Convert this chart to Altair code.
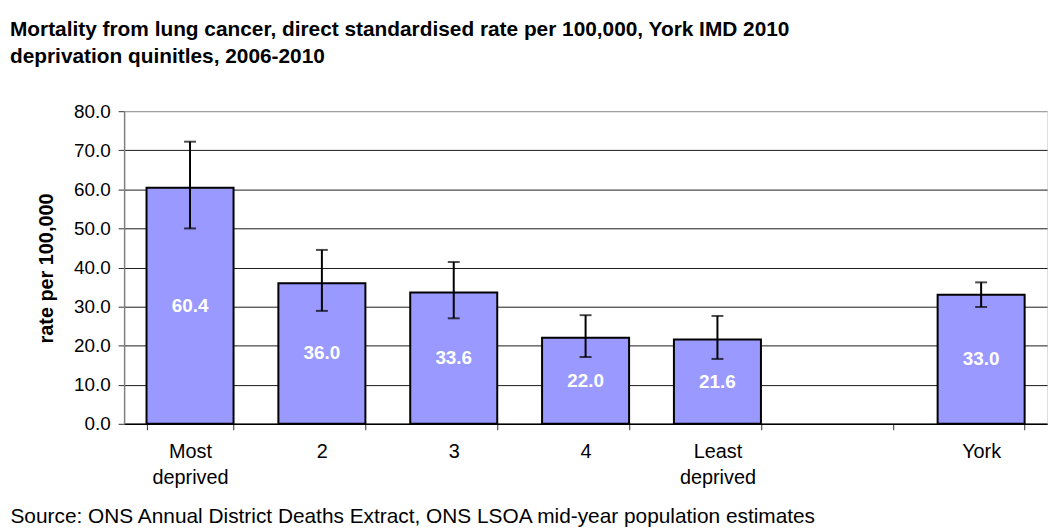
import altair as alt
import pandas as pd

categories = ["Most deprived", "2", "3", "4", "Least deprived", "gap", "York"]
bar_cats = ["Most deprived", "2", "3", "4", "Least deprived", "York"]
rates = [60.4, 36.0, 33.6, 22.0, 21.6, 33.0]
lower_ci = [50.0, 28.9, 27.0, 17.1, 16.6, 29.9]
upper_ci = [72.2, 44.5, 41.4, 27.8, 27.6, 36.2]
y_ticks = [0, 10, 20, 30, 40, 50, 60, 70, 80]

title_lines = [
    "Mortality from lung cancer, direct standardised rate per 100,000, York IMD 2010",
    "deprivation quinitles, 2006-2010",
]
source_text = "Source: ONS Annual District Deaths Extract, ONS LSOA mid-year population estimates"

df = pd.DataFrame({"cat": bar_cats, "rate": rates, "lo": lower_ci, "hi": upper_ci})

FONT = "Liberation Sans"

x_axis = alt.Axis(
    title=source_text,
    titleAnchor="start",
    titleX=-115,
    titleY=99,
    titleBaseline="alphabetic",
    titleFont=FONT,
    titleFontSize=21,
    titleFontWeight="normal",
    titleColor="black",
    labelExpr="datum.label == 'gap' ? '' : split(datum.label, ' ')",
    labelAngle=0,
    labelFont=FONT,
    labelFontSize=20,
    labelColor="black",
    labelLineHeight=26,
    labelPadding=12,
    labelBaseline="top",
    tickBand="extent",
    tickSize=6,
    tickColor="#333333",
    domainColor="#000000",
    domainWidth=1.5,
    grid=False,
)
x_scale = alt.Scale(domain=categories, paddingInner=0.34, paddingOuter=0.17)
x_enc = alt.X("cat:N", sort=categories, scale=x_scale, axis=x_axis)

y_axis = alt.Axis(
    values=y_ticks,
    format=".1f",
    labelOverlap=False,
    title="rate per 100,000",
    titleFont=FONT,
    titleFontSize=20,
    titleFontWeight="bold",
    titleColor="black",
    titleAngle=-90,
    titleX=-78,
    titleY=158,
    titleAlign="center",
    titleBaseline="middle",
    labelFont=FONT,
    labelFontSize=19,
    labelColor="black",
    labelPadding=8,
    tickSize=6,
    tickColor="#333333",
    domainColor="#808080",
    domainWidth=1.5,
    gridColor={"condition": {"test": "datum.value === 80", "value": "#909090"}, "value": "#1a1a1a"},
    gridWidth=1,
)
y_scale = alt.Scale(domain=[0, 80], nice=False)


def yq(field):
    return alt.Y(field, type="quantitative", scale=y_scale, axis=y_axis)


bars = alt.Chart(df).mark_bar(
    color="#9999FF", stroke="black", strokeWidth=2
).encode(x=x_enc, y=yq("rate"))

err = alt.Chart(df).mark_rule(color="black", strokeWidth=2).encode(
    x=x_enc, y=yq("lo"), y2="hi:Q"
)

cap_lo = alt.Chart(df).mark_tick(color="black", size=12, thickness=2).encode(
    x=x_enc, y=yq("lo")
)
cap_hi = alt.Chart(df).mark_tick(color="black", size=12, thickness=2).encode(
    x=x_enc, y=yq("hi")
)

labels = alt.Chart(df).transform_calculate(mid="datum.rate / 2").mark_text(
    color="white", font=FONT, fontSize=19, fontWeight="bold", baseline="middle"
).encode(
    x=x_enc,
    y=yq("mid"),
    text=alt.Text("rate:Q", format=".1f"),
)

chart = alt.layer(bars, err, cap_lo, cap_hi, labels).properties(
    width=930,
    height=315,
    autosize=alt.AutoSizeParams(type="none"),
    padding={"left": 117, "top": 102, "right": 7, "bottom": 103},
    title=alt.Title(
        text=title_lines,
        anchor="start",
        frame="group",
        dx=-115,
        offset=36,
        font=FONT,
        fontSize=21,
        fontWeight="bold",
        color="black",
        lineHeight=27,
    ),
).configure_view(stroke="#808080", strokeWidth=1.5).configure(background="white")

chart.save("out.html", embed_options={"renderer": "svg", "actions": False})
